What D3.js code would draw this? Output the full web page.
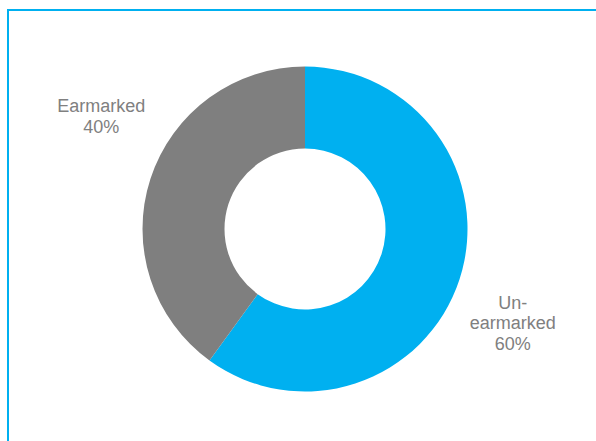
<!DOCTYPE html>
<html>
<head>
<meta charset="utf-8">
<script src="https://cdn.jsdelivr.net/npm/d3@7"></script>
<style>
  html, body { margin: 0; padding: 0; background: #ffffff; }
  svg { display: block; }
</style>
</head>
<body>
<svg id="chart" width="596" height="441"></svg>
<script>
// Share of funding by type (percent)
const categories = ["Un-earmarked", "Earmarked"];
const values = [60, 40];
const labelLines = [["Un-", "earmarked", "60%"], ["Earmarked", "40%"]];
const colors = ["#00b0f0", "#7f7f7f"];

const W = 596, H = 441;
const cx = 305, cy = 229;
const outerR = 162.5, innerR = 80.5;

const svg = d3.select("#chart");

// frame around the chart area (runs off the right and bottom edges)
svg.append("rect")
  .attr("x", 8).attr("y", 10)
  .attr("width", W + 20).attr("height", H + 20)
  .attr("fill", "none")
  .attr("stroke", "#00b0f0")
  .attr("stroke-width", 2);

const pie = d3.pie().sort(null).value(d => d);
const arcs = pie(values);
const arc = d3.arc().innerRadius(innerR).outerRadius(outerR);

const g = svg.append("g").attr("transform", `translate(${cx},${cy})`);

g.selectAll("path.slice")
  .data(arcs)
  .join("path")
  .attr("class", "slice")
  .attr("d", arc)
  .attr("fill", (d, i) => colors[i]);

// labels sit outside the ring, along each slice's mid-angle
const labelArc = d3.arc().innerRadius(228).outerRadius(228);
const labelNudge = [[-9, 24], [13, -42]];
const lineH = 20.5;

g.selectAll("text.lbl")
  .data(arcs)
  .join("text")
  .attr("class", "lbl")
  .attr("text-anchor", "middle")
  .attr("font-family", "'Liberation Sans', Arial, sans-serif")
  .attr("font-size", 18)
  .attr("fill", "#808080")
  .each(function (d, i) {
    const [x, y] = labelArc.centroid(d);
    const lines = labelLines[i];
    const px = x + labelNudge[i][0];
    const py = y + labelNudge[i][1];
    const firstBase = py - (lines.length - 1) * lineH / 2 + 6;
    d3.select(this).selectAll("tspan")
      .data(lines)
      .join("tspan")
      .attr("x", px)
      .attr("y", (t, k) => firstBase + k * lineH)
      .text(t => t);
  });
</script>
</body>
</html>
